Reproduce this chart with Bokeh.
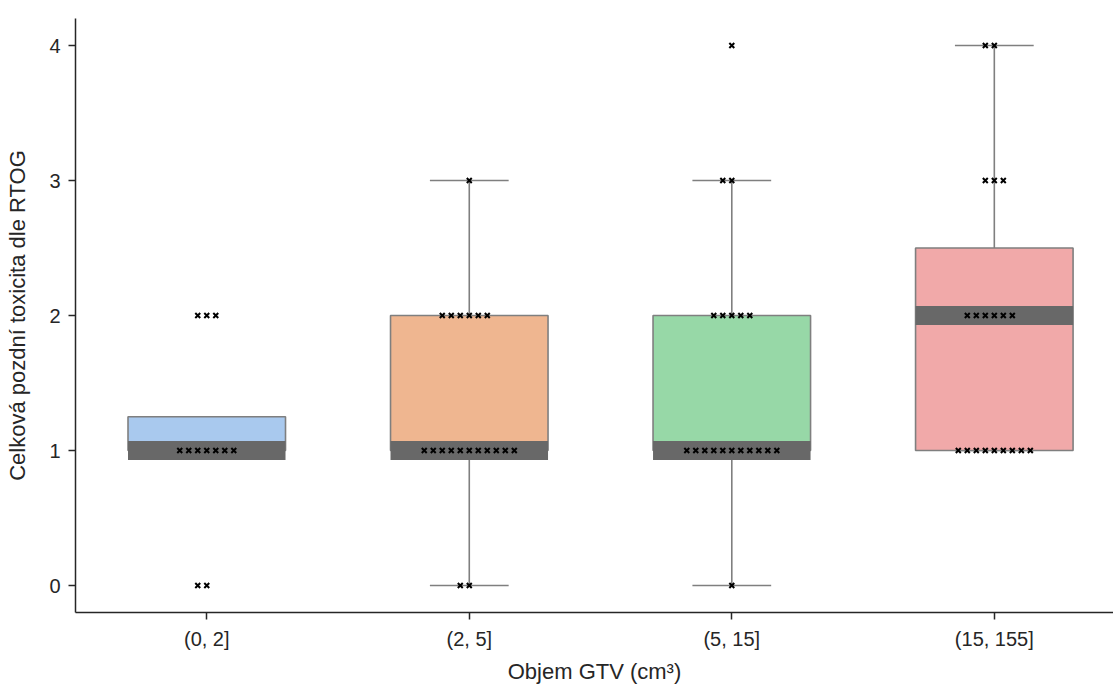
from bokeh.plotting import figure
from bokeh.models import FixedTicker
from bokeh.embed import file_html
from bokeh.resources import INLINE

# GTV volume bins and late toxicity grades
groups = ["(0, 2]", "(2, 5]", "(5, 15]", "(15, 155]"]
grades = [0, 1, 2, 3, 4]

# number of patients per toxicity grade in each volume bin
counts_0_2 = [2, 7, 3, 0, 0]
counts_2_5 = [2, 11, 6, 1, 0]
counts_5_15 = [1, 11, 5, 2, 1]
counts_15_155 = [0, 9, 6, 3, 2]

# box statistics per bin
q1 = [1, 1, 1, 1]
median = [1, 1, 1, 2]
q3 = [1.25, 2, 2, 2.5]
whisker_lo = [1, 0, 0, 1]
whisker_hi = [1, 3, 3, 4]

box_colors = ["#a9c9ee", "#efb690", "#97d8a7", "#f1a9a9"]
edge = "#7f7f7f"
text_col = "#262626"

all_counts = [counts_0_2, counts_2_5, counts_5_15, counts_15_155]

p = figure(width=1113, height=686, output_backend="svg", toolbar_location=None,
           x_range=(-0.5, 3.454), y_range=(-0.2, 4.2),
           min_border_left=75, min_border_right=0, min_border_top=18,
           min_border_bottom=74)
p.outline_line_color = None
p.xgrid.visible = False
p.ygrid.visible = False

box_w = 0.6
cap_w = 0.3
xs = list(range(len(groups)))

# whiskers and caps
p.segment(x0=xs, y0=q3, x1=xs, y1=whisker_hi, line_color=edge, line_width=1.6)
p.segment(x0=xs, y0=q1, x1=xs, y1=whisker_lo, line_color=edge, line_width=1.6)
p.segment(x0=[x - cap_w / 2 for x in xs], y0=whisker_hi,
          x1=[x + cap_w / 2 for x in xs], y1=whisker_hi, line_color=edge, line_width=1.6)
p.segment(x0=[x - cap_w / 2 for x in xs], y0=whisker_lo,
          x1=[x + cap_w / 2 for x in xs], y1=whisker_lo, line_color=edge, line_width=1.6)

# boxes
p.quad(left=[x - box_w / 2 for x in xs], right=[x + box_w / 2 for x in xs],
       bottom=q1, top=q3, fill_color=box_colors, line_color=edge, line_width=1.6)

# thick median bands
p.segment(x0=[x - box_w / 2 for x in xs], y0=median,
          x1=[x + box_w / 2 for x in xs], y1=median,
          line_color="#686868", line_width=19, line_cap="butt")

# swarm of individual patients
step = 0.0343
sx, sy = [], []
for gi, counts in enumerate(all_counts):
    for g, n in zip(grades, counts):
        if n == 0:
            continue
        start = -(n // 2)
        for k in range(n):
            sx.append(gi + (start + k) * step)
            sy.append(g)
p.scatter(sx, sy, marker="x", size=7, line_color="black", line_width=2)

# axes
for ax in (p.xaxis[0], p.yaxis[0]):
    ax.axis_line_color = text_col
    ax.axis_line_width = 1.5
    ax.major_tick_line_color = text_col
    ax.major_tick_line_width = 1.5
    ax.major_tick_out = 7
    ax.major_tick_in = 0
    ax.minor_tick_line_color = None
    ax.major_label_text_font = "Liberation Sans"
    ax.major_label_text_font_size = "20px"
    ax.major_label_text_color = text_col
    ax.axis_label_text_font = "Liberation Sans"
    ax.axis_label_text_font_size = "22px"
    ax.axis_label_text_font_style = "normal"
    ax.axis_label_text_color = text_col

p.xaxis.ticker = FixedTicker(ticks=xs)
p.xaxis.major_label_overrides = {i: g for i, g in enumerate(groups)}
p.xaxis.major_label_standoff = 8
p.xaxis.axis_label = "Objem GTV (cm³)"
p.xaxis.axis_label_standoff = 6

p.yaxis.ticker = FixedTicker(ticks=grades)
p.yaxis.major_label_standoff = 8
p.yaxis.axis_label = "Celková pozdní toxicita dle RTOG"
p.yaxis.axis_label_standoff = 16

open("out.html", "w").write(file_html(p, INLINE))
